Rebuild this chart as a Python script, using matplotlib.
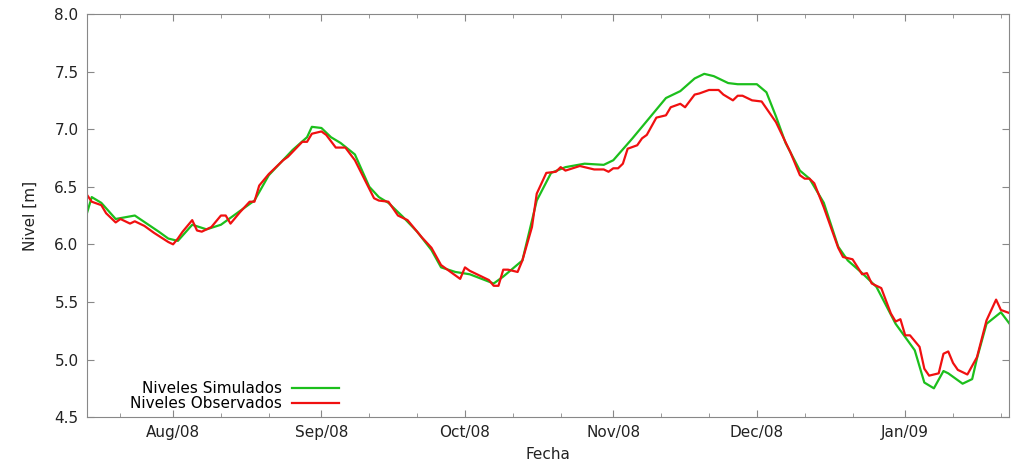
import matplotlib
matplotlib.use('Agg')
import matplotlib.pyplot as plt
import matplotlib.dates as mdates
import pandas as pd

# Niveles simulados (verde)
fechas_sim = ['2008-07-14', '2008-07-15', '2008-07-17', '2008-07-20', '2008-07-24', '2008-07-29',
              '2008-07-31', '2008-08-02', '2008-08-05', '2008-08-08', '2008-08-11', '2008-08-13',
              '2008-08-18', '2008-08-21', '2008-08-26', '2008-08-29', '2008-08-30', '2008-09-01',
              '2008-09-03', '2008-09-05', '2008-09-08', '2008-09-11', '2008-09-13', '2008-09-15',
              '2008-09-18', '2008-09-21', '2008-09-24', '2008-09-26', '2008-09-29', '2008-10-02',
              '2008-10-07', '2008-10-09', '2008-10-13', '2008-10-16', '2008-10-19', '2008-10-22',
              '2008-10-26', '2008-10-30', '2008-11-01', '2008-11-05', '2008-11-09', '2008-11-12',
              '2008-11-15', '2008-11-18', '2008-11-20', '2008-11-22', '2008-11-25', '2008-11-27',
              '2008-12-01', '2008-12-03', '2008-12-05', '2008-12-07', '2008-12-10', '2008-12-12',
              '2008-12-15', '2008-12-18', '2008-12-20', '2008-12-23', '2008-12-26', '2008-12-30',
              '2009-01-03', '2009-01-05', '2009-01-07', '2009-01-09', '2009-01-10', '2009-01-13',
              '2009-01-15', '2009-01-16', '2009-01-18', '2009-01-21', '2009-01-23']
nivel_sim = [6.27, 6.41, 6.36, 6.22, 6.25, 6.11,
             6.05, 6.03, 6.17, 6.13, 6.17, 6.23,
             6.38, 6.60, 6.82, 6.93, 7.02, 7.01,
             6.93, 6.88, 6.78, 6.50, 6.41, 6.36,
             6.24, 6.11, 5.95, 5.80, 5.76, 5.74,
             5.66, 5.72, 5.86, 6.38, 6.62, 6.67,
             6.70, 6.69, 6.73, 6.92, 7.12, 7.27,
             7.33, 7.44, 7.48, 7.46, 7.40, 7.39,
             7.39, 7.32, 7.11, 6.88, 6.64, 6.57,
             6.36, 5.98, 5.86, 5.75, 5.63, 5.31,
             5.08, 4.80, 4.75, 4.90, 4.88, 4.79,
             4.83, 5.01, 5.31, 5.41, 5.30]

# Niveles observados (rojo)
fechas_obs = ['2008-07-14', '2008-07-15', '2008-07-17', '2008-07-18', '2008-07-20', '2008-07-21',
              '2008-07-23', '2008-07-24', '2008-07-26', '2008-07-28', '2008-07-31', '2008-08-01',
              '2008-08-02', '2008-08-03', '2008-08-05', '2008-08-06', '2008-08-07', '2008-08-09',
              '2008-08-11', '2008-08-12', '2008-08-13', '2008-08-15', '2008-08-17', '2008-08-18',
              '2008-08-19', '2008-08-21', '2008-08-24', '2008-08-25', '2008-08-28', '2008-08-29',
              '2008-08-30', '2008-09-01', '2008-09-02', '2008-09-04', '2008-09-06', '2008-09-08',
              '2008-09-12', '2008-09-13', '2008-09-15', '2008-09-17', '2008-09-19', '2008-09-22',
              '2008-09-24', '2008-09-26', '2008-09-28', '2008-09-30', '2008-10-01', '2008-10-02',
              '2008-10-04', '2008-10-06', '2008-10-07', '2008-10-08', '2008-10-09', '2008-10-10',
              '2008-10-11', '2008-10-12', '2008-10-13', '2008-10-15', '2008-10-16', '2008-10-18',
              '2008-10-20', '2008-10-21', '2008-10-22', '2008-10-25', '2008-10-26', '2008-10-28',
              '2008-10-30', '2008-10-31', '2008-11-01', '2008-11-02', '2008-11-03', '2008-11-04',
              '2008-11-06', '2008-11-07', '2008-11-08', '2008-11-10', '2008-11-12', '2008-11-13',
              '2008-11-15', '2008-11-16', '2008-11-18', '2008-11-19', '2008-11-21', '2008-11-23',
              '2008-11-24', '2008-11-26', '2008-11-27', '2008-11-28', '2008-11-30', '2008-12-02',
              '2008-12-04', '2008-12-05', '2008-12-08', '2008-12-10', '2008-12-11', '2008-12-12',
              '2008-12-13', '2008-12-15', '2008-12-18', '2008-12-19', '2008-12-21', '2008-12-23',
              '2008-12-24', '2008-12-25', '2008-12-27', '2008-12-29', '2008-12-30', '2008-12-31',
              '2009-01-01', '2009-01-02', '2009-01-04', '2009-01-05', '2009-01-06', '2009-01-08',
              '2009-01-09', '2009-01-10', '2009-01-11', '2009-01-12', '2009-01-14', '2009-01-16',
              '2009-01-18', '2009-01-20', '2009-01-21', '2009-01-23']
nivel_obs = [6.43, 6.37, 6.34, 6.27, 6.19, 6.22,
             6.18, 6.20, 6.16, 6.10, 6.02, 6.00,
             6.05, 6.11, 6.21, 6.12, 6.11, 6.15,
             6.25, 6.25, 6.18, 6.28, 6.37, 6.37,
             6.51, 6.61, 6.73, 6.76, 6.89, 6.89,
             6.96, 6.98, 6.95, 6.84, 6.84, 6.73,
             6.40, 6.38, 6.37, 6.25, 6.21, 6.06,
             5.97, 5.82, 5.76, 5.70, 5.80, 5.77,
             5.73, 5.69, 5.64, 5.64, 5.78, 5.78,
             5.77, 5.76, 5.86, 6.15, 6.44, 6.62,
             6.63, 6.67, 6.64, 6.68, 6.67, 6.65,
             6.65, 6.63, 6.66, 6.66, 6.70, 6.83,
             6.86, 6.92, 6.95, 7.10, 7.12, 7.19,
             7.22, 7.19, 7.30, 7.31, 7.34, 7.34,
             7.30, 7.25, 7.29, 7.29, 7.25, 7.24,
             7.12, 7.06, 6.80, 6.60, 6.57, 6.57,
             6.53, 6.32, 5.97, 5.89, 5.87, 5.74,
             5.75, 5.66, 5.62, 5.40, 5.33, 5.35,
             5.21, 5.21, 5.11, 4.92, 4.86, 4.88,
             5.05, 5.07, 4.97, 4.91, 4.87, 5.02,
             5.34, 5.52, 5.43, 5.40]

GRIS = '#888888'
TEXTO = '#222222'

fig = plt.figure(figsize=(10.17, 4.65), dpi=100)
ax = fig.add_axes([0.0855, 0.103, 0.9065, 0.867])

ax.plot(pd.to_datetime(fechas_sim), nivel_sim, color='#1cbf1c', lw=1.6, label='Niveles Simulados')
ax.plot(pd.to_datetime(fechas_obs), nivel_obs, color='#f01010', lw=1.6, label='Niveles Observados')

ax.set_xlim(pd.Timestamp('2008-07-14'), pd.Timestamp('2009-01-22 16:00'))
ax.set_ylim(4.5, 8.0)
ax.set_yticks([4.5, 5.0, 5.5, 6.0, 6.5, 7.0, 7.5, 8.0])

ax.xaxis.set_major_locator(mdates.MonthLocator())
ax.xaxis.set_major_formatter(mdates.DateFormatter('%b/%y'))
ax.xaxis.set_minor_locator(mdates.DayLocator(bymonthday=[11, 21]))

for s in ax.spines.values():
    s.set_color(GRIS)
ax.tick_params(which='both', direction='in', top=True, right=True, color=GRIS,
               labelsize=11, labelcolor=TEXTO, pad=6)
ax.tick_params(which='major', length=5)
ax.tick_params(which='minor', length=3)

ax.set_xlabel('Fecha', fontsize=11, color=TEXTO, labelpad=5)
ax.set_ylabel('Nivel [m]', fontsize=11, color=TEXTO, labelpad=12)

ax.legend(loc='lower left', bbox_to_anchor=(0.032, -0.02), frameon=False, markerfirst=False,
          fontsize=11, handlelength=3.1, handletextpad=0.65, labelspacing=0.0,
          alignment='right')

fig.savefig('out.png', dpi=100)
